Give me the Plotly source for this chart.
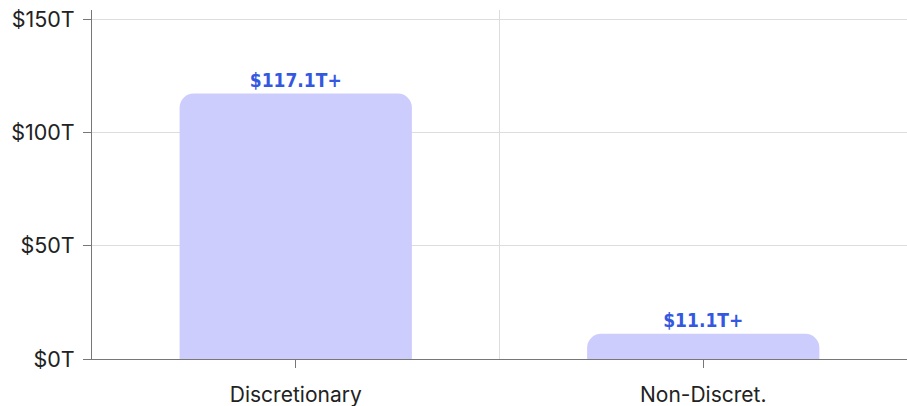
import plotly.graph_objects as go

categories = ["Discretionary", "Non-Discret."]
values = [117.1, 11.1]
labels = ["$117.1T+", "$11.1T+"]
y_tickvals = [0, 50, 100, 150]
y_ticktext = ["$0T", "$50T", "$100T", "$150T"]

fig = go.Figure(
    go.Bar(
        x=categories,
        y=values,
        text=labels,
        textposition="outside",
        cliponaxis=False,
        width=0.57,
        marker=dict(color="#CDCDFD", line=dict(width=0)),
        textfont=dict(family="DejaVu Sans Condensed, Liberation Sans Narrow", size=19, color="#3558E0", weight="bold"),
        hoverinfo="skip",
    )
)

fig.update_layout(
    width=907,
    height=406,
    margin=dict(l=92, r=0, t=10, b=47, autoexpand=False),
    paper_bgcolor="white",
    plot_bgcolor="white",
    barcornerradius=14,
    showlegend=False,
    font=dict(family="Inter, Liberation Sans, Arial", color="#222"),
    shapes=[
        dict(type="line", xref="x", yref="paper", x0=0.5, x1=0.5, y0=0, y1=1,
             line=dict(color="#DDDDDD", width=1), layer="below")
    ],
)

fig.update_xaxes(
    range=[-0.5, 1.5],
    automargin=False,
    showline=True,
    linecolor="#777",
    linewidth=1,
    ticks="outside",
    ticklen=8,
    tickcolor="#777",
    showgrid=False,
    tickfont=dict(size=21, color="#222"),
    ticklabelstandoff=9,
)

fig.update_yaxes(
    range=[0, 154],
    automargin=False,
    tickvals=y_tickvals,
    ticktext=y_ticktext,
    showline=True,
    linecolor="#777",
    linewidth=1,
    ticks="outside",
    ticklen=8,
    tickcolor="#777",
    showgrid=True,
    gridcolor="#DDDDDD",
    zeroline=False,
    tickfont=dict(size=21.5, color="#222"),
    ticklabelstandoff=4,
    ticklabeloverflow="allow",
)

fig.write_html(
    "out.html",
    config={"displayModeBar": False},
    post_script="document.body.style.margin='0';document.body.style.overflow='hidden';",
)
